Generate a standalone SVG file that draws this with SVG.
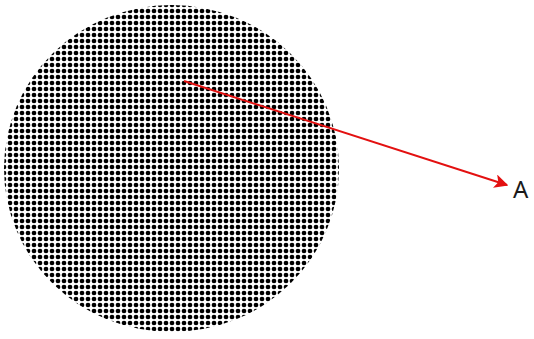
<svg xmlns="http://www.w3.org/2000/svg" width="534" height="339" viewBox="0 0 534 339">
<style>
.lbl{font-family:"Noto Sans","Liberation Sans",Arial,sans-serif;font-size:24px;fill:#1a1a1a}
.conn{stroke:#e31010;stroke-width:2;fill:none}
</style>
<defs>
<pattern id="dots" x="1" y="2" width="6" height="6" patternUnits="userSpaceOnUse">
<circle cx="3" cy="3" r="2.35" fill="#000"/>
</pattern>
<marker id="ah" viewBox="0 0 10 10" refX="9" refY="5" markerWidth="7" markerHeight="7" orient="auto" markerUnits="strokeWidth">
<path d="M0,0 L10,5 L0,10 L2.5,5 Z" fill="#e31010"/>
</marker>
</defs>
<rect width="534" height="339" fill="#fff"/>
<g id="disc">
<ellipse cx="171.5" cy="168.5" rx="167.5" ry="163.5" fill="url(#dots)"/>
</g>
<g id="connectors">
<line class="conn" x1="184" y1="81" x2="507" y2="185" marker-end="url(#ah)"/>
</g>
<g id="A">
<text class="lbl" x="513" y="198">A</text>
</g>
</svg>
